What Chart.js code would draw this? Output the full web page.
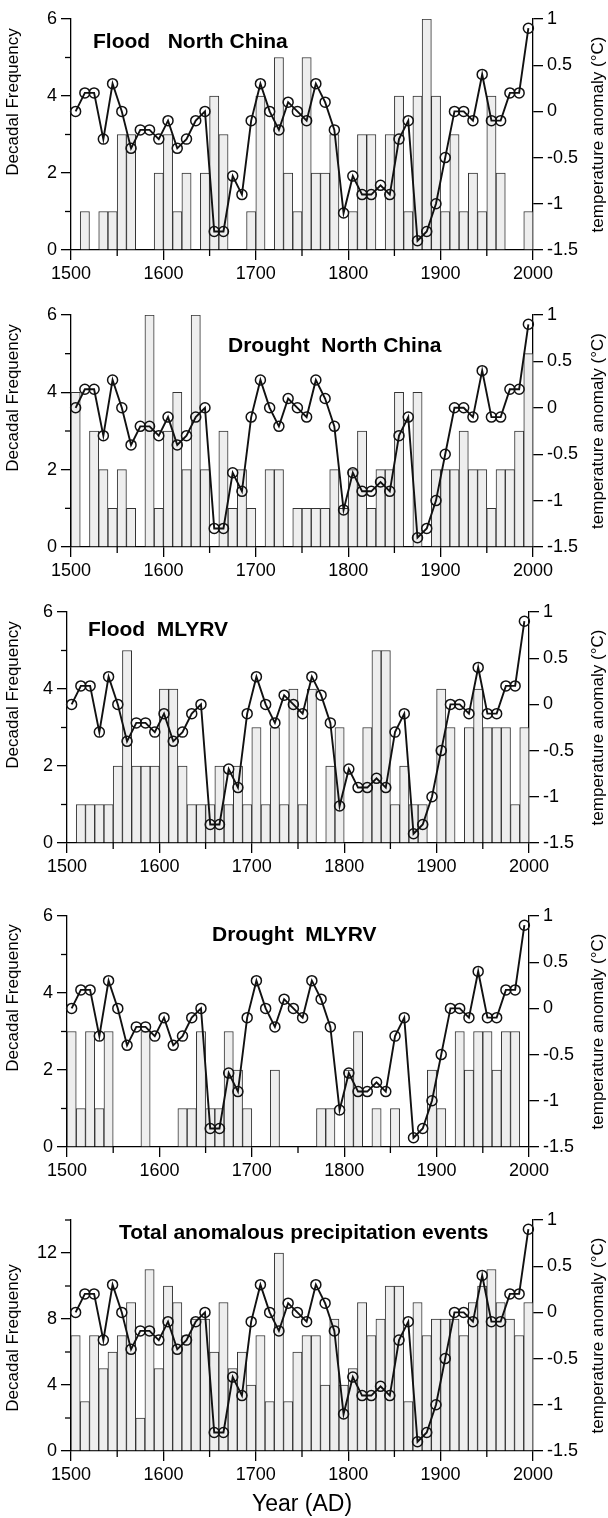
<!DOCTYPE html>
<html>
<head>
<meta charset="utf-8">
<script src="https://cdn.jsdelivr.net/npm/chart.js@4.4.1/dist/chart.umd.min.js"></script>
<style>
  html, body { margin: 0; padding: 0; background: #fff; }
  body { width: 608px; height: 1518px; position: relative; overflow: hidden; }
  canvas { position: absolute; left: 0; }
</style>
</head>
<body>
<canvas id="c1"></canvas>
<canvas id="c2"></canvas>
<canvas id="c3"></canvas>
<canvas id="c4"></canvas>
<canvas id="c5"></canvas>
<script>
  // decade mid-years (bars span each decade, line points sit in the middle)
  const decadeMid = [1505, 1515, 1525, 1535, 1545, 1555, 1565, 1575, 1585, 1595,
                     1605, 1615, 1625, 1635, 1645, 1655, 1665, 1675, 1685, 1695,
                     1705, 1715, 1725, 1735, 1745, 1755, 1765, 1775, 1785, 1795,
                     1805, 1815, 1825, 1835, 1845, 1855, 1865, 1875, 1885, 1895,
                     1905, 1915, 1925, 1935, 1945, 1955, 1965, 1975, 1985, 1995];

  const floodNorth =   [0, 1, 0, 1, 1, 3, 3, 0, 0, 2,  3, 1, 2, 0, 2, 4, 3, 0, 0, 1,
                        4, 0, 5, 2, 1, 5, 2, 2, 3, 0,  1, 3, 3, 0, 3, 4, 1, 4, 6, 4,
                        1, 3, 1, 2, 1, 4, 2, 0, 0, 1];
  const droughtNorth = [4, 0, 3, 2, 1, 2, 1, 0, 6, 1,  3, 4, 2, 6, 2, 0, 3, 1, 2, 1,
                        0, 2, 2, 0, 1, 1, 1, 1, 2, 1,  2, 3, 1, 2, 2, 4, 0, 4, 0, 2,
                        2, 2, 3, 2, 2, 1, 2, 2, 3, 5];
  const floodMLYRV =   [0, 1, 1, 1, 1, 2, 5, 2, 2, 2,  4, 4, 2, 1, 1, 1, 2, 1, 2, 1,
                        3, 1, 3, 1, 4, 1, 4, 0, 2, 3,  0, 0, 3, 5, 5, 1, 2, 1, 1, 0,
                        4, 3, 0, 3, 4, 3, 3, 3, 1, 3];
  const droughtMLYRV = [3, 1, 3, 1, 3, 0, 0, 0, 3, 0,  0, 0, 1, 1, 3, 1, 1, 3, 2, 1,
                        0, 0, 2, 0, 0, 0, 0, 1, 1, 0,  2, 3, 0, 1, 0, 1, 0, 0, 0, 2,
                        1, 0, 3, 2, 3, 3, 2, 3, 3, 0];
  const totalEvents =  [7, 3, 7, 5, 6, 7, 9, 2, 11, 5, 10, 9, 7, 8, 8, 6, 9, 5, 6, 4,
                        7, 3, 12, 3, 6, 7, 7, 4, 8, 4, 5, 9, 7, 8, 10, 10, 3, 9, 7, 8,
                        8, 8, 7, 9, 10, 11, 9, 8, 7, 9];
  const tempAnomaly =  [0.0, 0.2, 0.2, -0.3, 0.3, 0.0, -0.4, -0.2, -0.2, -0.3,
                        -0.1, -0.4, -0.3, -0.1, 0.0, -1.3, -1.3, -0.7, -0.9, -0.1,
                        0.3, 0.0, -0.2, 0.1, 0.0, -0.1, 0.3, 0.1, -0.2, -1.1,
                        -0.7, -0.9, -0.9, -0.8, -0.9, -0.3, -0.1, -1.4, -1.3, -1.0,
                        -0.5, 0.0, 0.0, -0.1, 0.4, -0.1, -0.1, 0.2, 0.2, 0.9];

  const yearTicks = [1500, 1600, 1700, 1800, 1900, 2000];

  const FONT = '"Liberation Sans", Arial, Helvetica, sans-serif';
  const PAD_TOP = 19;

  // ly: vertical centre of the "Decadal Frequency" label, page coordinates
  const panels = [
    { id: 'c1', title: 'Flood   North China', bars: floodNorth, yMax: 6, yMajor: 2,
      top: 19, bottom: 250, left: 71, right: 533, tx: 93, ty: 48, ly: 102 },
    { id: 'c2', title: 'Drought  North China', bars: droughtNorth, yMax: 6, yMajor: 2,
      top: 315, bottom: 547, left: 71, right: 533, tx: 228, ty: 352, ly: 398 },
    { id: 'c3', title: 'Flood  MLYRV', bars: floodMLYRV, yMax: 6, yMajor: 2,
      top: 612, bottom: 843, left: 67, right: 529, tx: 88, ty: 636, ly: 695 },
    { id: 'c4', title: 'Drought  MLYRV', bars: droughtMLYRV, yMax: 6, yMajor: 2,
      top: 916, bottom: 1147, left: 67, right: 529, tx: 212, ty: 941, ly: 998 },
    { id: 'c5', title: 'Total anomalous precipitation events', bars: totalEvents, yMax: 14, yMajor: 4,
      top: 1220, bottom: 1451, left: 71, right: 533, tx: 119, ty: 1239, ly: 1338, xTitle: 'Year (AD)' }
  ];

  // short ticks for the unlabelled (minor) positions
  const minorTicks = {
    id: 'minorTicks',
    afterDraw(chart) {
      const ctx = chart.ctx, a = chart.chartArea;
      ctx.save();
      ctx.strokeStyle = '#000';
      ctx.lineWidth = 1.3;
      ['x', 'y', 'y2'].forEach(id => {
        const s = chart.scales[id];
        s.ticks.forEach(t => {
          if (t.label !== '') return;
          const p = s.getPixelForValue(t.value);
          ctx.beginPath();
          if (id === 'x') { ctx.moveTo(p, a.bottom); ctx.lineTo(p, a.bottom + 6); }
          else if (id === 'y') { ctx.moveTo(a.left, p); ctx.lineTo(a.left - 6, p); }
          else { ctx.moveTo(a.right, p); ctx.lineTo(a.right + 6, p); }
          ctx.stroke();
        });
      });
      ctx.restore();
    }
  };

  const panelText = {
    id: 'panelText',
    afterDraw(chart, args, o) {
      const c = chart.ctx, a = chart.chartArea;
      c.save();
      c.fillStyle = '#000';
      c.font = 'bold 21px ' + FONT;
      c.textAlign = 'left';
      c.textBaseline = 'alphabetic';
      c.fillText(o.title, o.tx, o.ty);
      c.font = '17px ' + FONT;
      c.textAlign = 'center';
      c.textBaseline = 'middle';
      c.save();
      c.translate(13, o.ly);
      c.rotate(-Math.PI / 2);
      c.fillText('Decadal Frequency', 0, 0);
      c.restore();
      c.translate(598, (a.top + a.bottom) / 2);
      c.rotate(-Math.PI / 2);
      c.fillText('temperature anomaly (°C)', 0, 0);
      c.restore();
    }
  };

  panels.forEach(p => {
    const cv = document.getElementById(p.id);
    const canvasTop = p.top - PAD_TOP;
    const bottomH = p.xTitle ? 1518 - p.bottom : 47;
    const h = PAD_TOP + (p.bottom - p.top) + bottomH;
    cv.width = 608; cv.height = h;
    cv.style.top = canvasTop + 'px';
    cv.style.width = '608px'; cv.style.height = h + 'px';

    const tickFont = { family: FONT, size: 18 };
    const majorX = v => yearTicks.includes(v);
    const majorY = v => v % p.yMajor === 0;
    const majorY2 = v => Math.round(v * 4) % 2 === 0;

    new Chart(cv, {
      type: 'bar',
      data: {
        datasets: [
          {
            type: 'line',
            data: decadeMid.map((x, i) => ({ x, y: tempAnomaly[i] })),
            yAxisID: 'y2',
            order: 0,
            borderColor: '#111',
            borderWidth: 1.9,
            pointRadius: 5,
            pointBorderWidth: 1.5,
            pointBorderColor: '#111',
            pointBackgroundColor: 'rgba(255,255,255,0)',
            tension: 0,
            clip: false
          },
          {
            type: 'bar',
            data: decadeMid.map((x, i) => ({ x, y: p.bars[i] })),
            yAxisID: 'y',
            order: 1,
            backgroundColor: '#eeeeee',
            borderColor: '#333',
            borderWidth: 1,
            barPercentage: 1,
            categoryPercentage: 1
          }
        ]
      },
      options: {
        responsive: false,
        animation: false,
        layout: { padding: { top: PAD_TOP, left: 0, right: 0, bottom: 0 } },
        plugins: {
          legend: { display: false },
          tooltip: { enabled: false },
          panelText: { title: p.title, tx: p.tx, ty: p.ty - canvasTop, ly: p.ly - canvasTop }
        },
        scales: {
          x: {
            type: 'linear', min: 1500, max: 2000, offset: false,
            ticks: {
              stepSize: 50, autoSkip: false, maxRotation: 0, color: '#000', font: tickFont, padding: 3,
              callback: v => majorX(v) ? String(v) : ''
            },
            grid: {
              offset: false, drawOnChartArea: false, drawTicks: true, tickLength: 10, lineWidth: 1.3,
              color: c => (c.tick && majorX(c.tick.value)) ? '#000' : 'rgba(0,0,0,0)'
            },
            border: { display: true, color: '#000', width: 1.3 },
            title: {
              display: !!p.xTitle, text: p.xTitle || '', color: '#000',
              font: { family: FONT, size: 23 }, padding: { top: 0, bottom: 0 }
            },
            afterFit: s => { s.height = bottomH; }
          },
          y: {
            position: 'left', min: 0, max: p.yMax,
            ticks: {
              stepSize: p.yMajor / 2, color: '#000', font: tickFont, padding: 4,
              callback: v => majorY(v) ? String(v) : ''
            },
            grid: {
              drawOnChartArea: false, drawTicks: true, tickLength: 10, lineWidth: 1.3,
              color: c => (c.tick && majorY(c.tick.value)) ? '#000' : 'rgba(0,0,0,0)'
            },
            border: { display: true, color: '#000', width: 1.3 },
            afterFit: s => { s.width = p.left; }
          },
          y2: {
            position: 'right', min: -1.5, max: 1,
            ticks: {
              stepSize: 0.25, color: '#000', font: tickFont, padding: 4,
              callback: v => majorY2(v) ? String(Math.round(v * 100) / 100) : ''
            },
            grid: {
              drawOnChartArea: false, drawTicks: true, tickLength: 10, lineWidth: 1.3,
              color: c => (c.tick && majorY2(c.tick.value)) ? '#000' : 'rgba(0,0,0,0)'
            },
            border: { display: true, color: '#000', width: 1.3 },
            afterFit: s => { s.width = 608 - p.right; }
          }
        }
      },
      plugins: [minorTicks, panelText]
    });
  });
</script>
</body>
</html>
